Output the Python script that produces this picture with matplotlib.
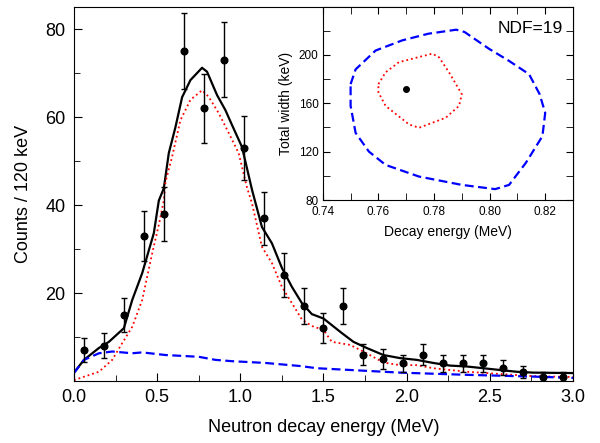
import matplotlib
matplotlib.use("Agg")
import matplotlib.pyplot as plt
from matplotlib.ticker import MultipleLocator, FormatStrFormatter

plt.rcParams['font.family'] = ['Liberation Sans', 'DejaVu Sans']

# data points (bin centres, 120 keV bins)
e_data = [0.06, 0.18, 0.30, 0.42, 0.54, 0.66, 0.78, 0.90, 1.02, 1.14, 1.26, 1.38, 1.50,
          1.62, 1.74, 1.86, 1.98, 2.10, 2.22, 2.34, 2.46, 2.58, 2.70, 2.82, 2.94]
counts = [7, 8, 15, 33, 38, 75, 62, 73, 53, 37, 24, 17, 12,
          17, 6, 5, 4, 6, 4, 4, 4, 3, 2, 1, 1]
errors = [2.7, 2.8, 3.9, 5.7, 6.2, 8.7, 7.9, 8.5, 7.3, 6.0, 5.0, 4.1, 3.4,
          4.1, 2.4, 2.3, 2.0, 2.4, 2.0, 2.0, 2.0, 1.7, 1.4, 1.0, 1.0]

# total fit (black)
e_total = [0.0, 0.06, 0.15, 0.21, 0.30, 0.35, 0.41, 0.48, 0.51, 0.54, 0.57, 0.61, 0.65,
           0.70, 0.77, 0.80, 0.86, 0.91, 0.95, 1.01, 1.07, 1.13, 1.19, 1.25, 1.31, 1.37,
           1.43, 1.50, 1.55, 1.61, 1.68, 1.76, 1.86, 1.96, 2.06, 2.16, 2.26, 2.36, 2.46,
           2.56, 2.66, 2.76, 3.0]
c_total = [1.9, 4.8, 7.5, 8.9, 12.0, 18.4, 24.5, 33.6, 41.0, 43.8, 51.8, 57.7, 64.5,
           68.4, 71.2, 70.3, 65.0, 61.6, 58.2, 53.2, 43.5, 35.0, 31.3, 25.7, 21.4, 17.7,
           15.2, 14.2, 12.7, 10.9, 8.9, 7.5, 5.9, 5.2, 4.8, 4.1, 3.5, 3.3, 2.9,
           2.5, 2.1, 1.9, 1.8]

# resonance component (red dotted)
e_res = [0.0, 0.15, 0.23, 0.29, 0.35, 0.41, 0.47, 0.51, 0.54, 0.55, 0.59, 0.64, 0.70,
         0.77, 0.81, 0.87, 0.93, 0.99, 1.04, 1.07, 1.13, 1.19, 1.25, 1.31, 1.37, 1.43,
         1.50, 1.55, 1.66, 1.76, 1.86, 1.96, 2.06, 2.16, 2.36, 2.56, 2.76, 3.0]
c_res = [0.2, 2.1, 4.8, 8.6, 12.3, 18.4, 29.0, 35.5, 41.0, 45.2, 51.0, 59.3, 63.9,
         66.1, 64.6, 60.9, 56.4, 51.8, 44.0, 40.4, 30.5, 26.8, 21.4, 17.7, 14.0, 12.5,
         11.6, 8.9, 8.2, 6.3, 4.2, 3.6, 3.6, 2.9, 2.1, 1.6, 1.1, 0.9]

# non-resonant component (blue dashed)
e_bg = [0.0, 0.06, 0.15, 0.23, 0.35, 0.41, 0.55, 0.75, 0.85, 0.95, 1.15, 1.36, 1.46,
        1.66, 1.96, 2.36, 2.76, 3.0]
c_bg = [1.8, 4.8, 6.3, 6.7, 6.3, 6.5, 5.9, 5.5, 4.8, 4.5, 4.1, 3.4, 2.9,
        2.5, 1.9, 1.4, 1.0, 0.7]

# inset: confidence contours
blue_e = [0.750, 0.7518, 0.759, 0.7686, 0.778, 0.788, 0.791, 0.7998, 0.807, 0.8142,
          0.818, 0.820, 0.819, 0.813, 0.807, 0.802, 0.790, 0.7746, 0.7626, 0.7566,
          0.7518, 0.750, 0.750]
blue_w = [175.8, 188, 203.6, 212, 217.5, 220.8, 218.9, 205, 195, 184,
          167.5, 152, 132.8, 110.6, 92.5, 89, 92.5, 99.4, 109, 120,
          135.5, 157.8, 175.8]
red_e = [0.760, 0.7626, 0.7674, 0.7794, 0.7818, 0.7854, 0.790, 0.789, 0.7842, 0.7746,
         0.771, 0.7626, 0.760, 0.760]
red_w = [175.8, 185.6, 194, 201, 198, 185.6, 167.5, 157.8, 148, 139.7,
         142.5, 157.8, 169, 175.8]
best_e = [0.770]
best_w = [172]

fig = plt.figure(figsize=(6, 4.43), dpi=100)
ax = fig.add_axes([0.1233, 0.14, 0.8317, 0.844])

ax.plot(e_total, c_total, '-', color='black', lw=1.6)
ax.plot(e_res, c_res, ':', color='red', lw=1.3)
ax.plot(e_bg, c_bg, '--', color='blue', lw=1.6, dashes=(4, 2))
ax.errorbar(e_data, counts, yerr=errors, fmt='o', color='black', ms=4.8,
            elinewidth=1, capsize=2, capthick=1)

ax.set_xlim(0, 3)
ax.set_ylim(0, 85)
ax.xaxis.set_major_locator(MultipleLocator(0.5))
ax.xaxis.set_minor_locator(MultipleLocator(0.25))
ax.set_yticks([20, 40, 60, 80])
ax.yaxis.set_minor_locator(MultipleLocator(10))
ax.xaxis.set_major_formatter(FormatStrFormatter('%.1f'))
ax.tick_params(which='both', direction='in', labelsize=13, pad=6)
ax.tick_params(which='major', length=6)
ax.tick_params(which='minor', length=4)
ax.set_xlabel('Neutron decay energy (MeV)', fontsize=13, labelpad=9)
ax.set_ylabel('Counts / 120 keV', fontsize=13, labelpad=10)

# inset
ins = fig.add_axes([0.538, 0.5485, 0.417, 0.4355])
ins.plot(blue_e, blue_w, '--', color='blue', lw=1.6, dashes=(4, 2))
ins.plot(red_e, red_w, ':', color='red', lw=1.3)
ins.plot(best_e, best_w, 'o', color='black', ms=4)
ins.set_xlim(0.74, 0.83)
ins.set_ylim(80, 239.5)
ins.xaxis.set_major_locator(MultipleLocator(0.02))
ins.xaxis.set_minor_locator(MultipleLocator(0.01))
ins.yaxis.set_major_locator(MultipleLocator(40))
ins.yaxis.set_minor_locator(MultipleLocator(20))
ins.tick_params(which='both', direction='in', labelsize=8.5, top=True, right=True, pad=3)
ins.tick_params(axis='x', pad=4.5)
ins.tick_params(which='both', length=5)
ins.set_xlabel('Decay energy (MeV)', fontsize=10, labelpad=5)
ins.set_ylabel('Total width (keV)', fontsize=10, labelpad=4)
ins.text(0.96, 0.93, 'NDF=19', transform=ins.transAxes, ha='right', va='top', fontsize=12.5)

fig.savefig('out.png', dpi=100)
